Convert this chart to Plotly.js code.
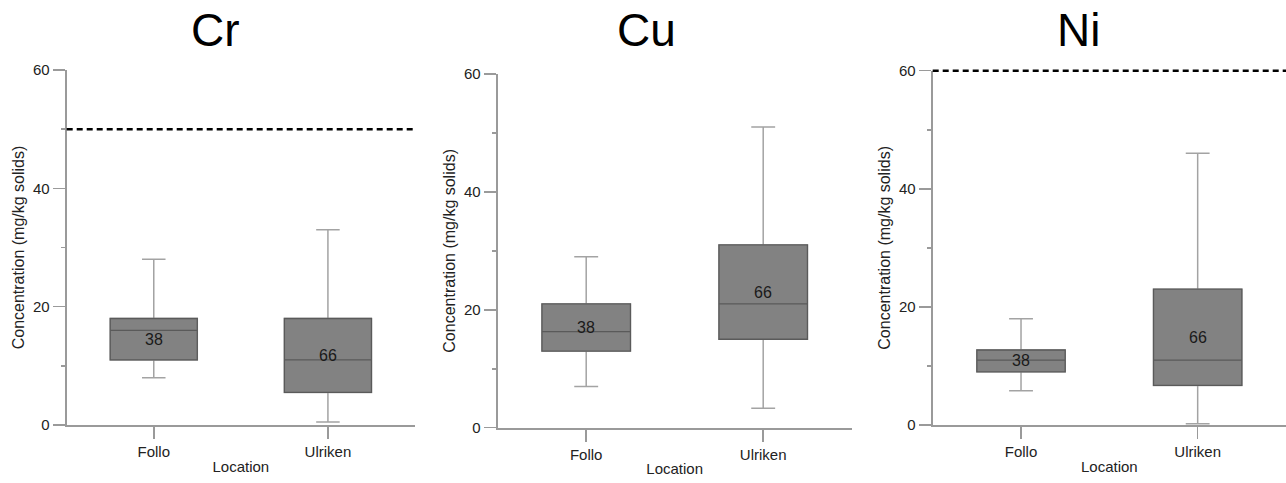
<!DOCTYPE html>
<html>
<head>
<meta charset="utf-8">
<script src="https://cdn.plot.ly/plotly-3.0.1.min.js"></script>
<style>html,body{margin:0;padding:0;background:#fff;}#chart{width:1286px;height:483px;}</style>
</head>
<body>
<div id="chart"></div>
<script>
// ---- data ----
const metals = ["Cr", "Cu", "Ni"];
const locations = ["Follo", "Ulriken"];
const sampleCounts = [38, 66];
// per metal: [Follo, Ulriken]
const lowerWhisker = { Cr: [8, 0.5],  Cu: [7, 3.3],  Ni: [5.8, 0.2] };
const q1Values     = { Cr: [11, 5.5], Cu: [13, 15],  Ni: [9, 6.7] };
const medianValues = { Cr: [16, 11],  Cu: [16.3, 21], Ni: [11, 11] };
const q3Values     = { Cr: [18, 18],  Cu: [21, 31],  Ni: [12.7, 23] };
const upperWhisker = { Cr: [28, 33],  Cu: [29, 51],  Ni: [18, 46] };
const limitValues  = { Cr: 50, Cu: null, Ni: 60 };
const yTicks = [0, 20, 40, 60];
const yRange = [0, 60];
const yTitle = "Concentration (mg/kg solids)";
const xTitle = "Location";

// ---- layout geometry (px) ----
const W = 1286, H = 483;
const panels = [
  { x0: 66.7,  x1: 415,   yTop: 70,   yBot: 425,   titleX: 215 },
  { x0: 497.7, x1: 851.7, yTop: 74,   yBot: 427.7, titleX: 646 },
  { x0: 932.7, x1: 1286,  yTop: 70.7, yBot: 425,   titleX: 1078 }
];

const FONT = "Liberation Sans, Arial, sans-serif";
const axisGray = "#9a9a9a";
const traces = [];
const annotations = [];
const shapes = [];
const layout = {
  width: W, height: H,
  margin: { l: 0, r: 0, t: 0, b: 0 },
  paper_bgcolor: "#fff", plot_bgcolor: "#fff",
  showlegend: false,
  boxmode: "overlay",
  font: { family: FONT, color: "#222", size: 15 }
};

metals.forEach((m, i) => {
  const p = panels[i];
  const sfx = i === 0 ? "" : String(i + 1);
  const xa = "x" + sfx, ya = "y" + sfx;
  // whiskers (light gray)
  traces.push({
    type: "box", xaxis: xa, yaxis: ya, x: locations,
    q1: q1Values[m], median: medianValues[m], q3: q3Values[m],
    lowerfence: lowerWhisker[m], upperfence: upperWhisker[m],
    width: 0.5, whiskerwidth: 0.27,
    fillcolor: "#828282", line: { color: "#a3a3a3", width: 1.5 },
    hoverinfo: "skip"
  });
  // box body (darker outline)
  traces.push({
    type: "box", xaxis: xa, yaxis: ya, x: locations,
    q1: q1Values[m], median: medianValues[m], q3: q3Values[m],
    lowerfence: q1Values[m], upperfence: q3Values[m],
    width: 0.5, whiskerwidth: 0,
    fillcolor: "#828282", line: { color: "#5a5a5a", width: 1.3 },
    hoverinfo: "skip"
  });
  // count labels at box centre
  locations.forEach((loc, j) => {
    annotations.push({
      xref: xa, yref: ya, x: loc, y: (q1Values[m][j] + q3Values[m][j]) / 2,
      text: String(sampleCounts[j]), showarrow: false,
      font: { family: FONT, size: 16, color: "#1a1a1a" }
    });
  });
  // metal title
  annotations.push({
    xref: "paper", yref: "paper", x: p.titleX / W, y: 1 - 30 / H,
    xanchor: "center", yanchor: "middle", text: m, showarrow: false,
    font: { family: FONT, size: 46, color: "#000" }
  });
  // guideline (domain-referenced so it is not clipped at the top edge)
  if (limitValues[m] !== null) {
    const frac = (limitValues[m] - yRange[0]) / (yRange[1] - yRange[0]);
    shapes.push({
      type: "line", xref: xa + " domain", yref: ya + " domain", x0: 0, x1: 1,
      y0: frac, y1: frac, layer: "above",
      line: { color: "#000", width: 2.5, dash: "6px,4px" }
    });
  }
  layout["xaxis" + sfx] = {
    domain: [p.x0 / W, p.x1 / W], anchor: ya,
    type: "category", range: [-0.5, 1.5],
    showline: true, linecolor: axisGray, linewidth: 2,
    ticks: "outside", ticklen: 12, tickcolor: axisGray, tickwidth: 1.5,
    showgrid: false, zeroline: false, fixedrange: true,
    tickfont: { family: FONT, size: 15, color: "#222" },
    title: { text: xTitle, font: { family: FONT, size: 15, color: "#222" }, standoff: 2 }
  };
  layout["yaxis" + sfx] = {
    domain: [1 - p.yBot / H, 1 - p.yTop / H], anchor: xa,
    range: yRange, tickvals: yTicks, ticktext: yTicks.map(String),
    showline: true, linecolor: axisGray, linewidth: 2,
    ticks: "outside", ticklen: 12, tickcolor: axisGray, tickwidth: 1.5,
    minor: { ticks: "outside", ticklen: 4, tickcolor: axisGray, tickwidth: 1.5, dtick: 10, tick0: 0, showgrid: false },
    showgrid: false, zeroline: false, fixedrange: true,
    tickfont: { family: FONT, size: 15, color: "#222" },
    title: { text: yTitle, font: { family: FONT, size: 16, color: "#222" }, standoff: 4 }
  };
});
layout.annotations = annotations;
layout.shapes = shapes;

Plotly.newPlot("chart", traces, layout, { staticPlot: true, displayModeBar: false });
</script>
</body>
</html>
